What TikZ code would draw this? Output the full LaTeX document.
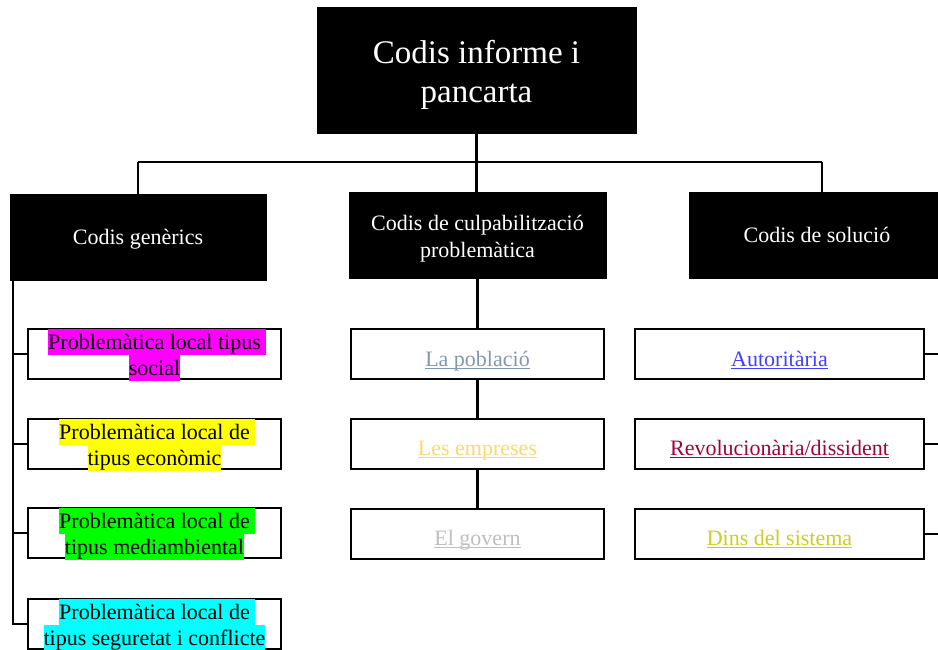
\documentclass[tikz,border=0pt]{standalone}
\usepackage{fontspec}
\setmainfont{Liberation Serif}
\usepackage{xcolor}
\definecolor{hlmag}{HTML}{FF00FF}
\definecolor{hlyel}{HTML}{FFFF00}
\definecolor{hlgrn}{HTML}{00FF00}
\definecolor{hlcya}{HTML}{00FFFF}
\definecolor{cpob}{HTML}{8497B0}
\definecolor{cemp}{HTML}{FFD966}
\definecolor{cgov}{HTML}{BFBFBF}
\definecolor{caut}{HTML}{4040FF}
\definecolor{crev}{HTML}{A50037}
\definecolor{cdins}{HTML}{CCCC22}
\newcommand\myul[1]{\sbox0{#1}\rlap{\rule[-3pt]{\wd0}{1.2pt}}\usebox0}
\newcommand\hlt[2]{{\fboxsep=0pt\colorbox{#1}{\rule[-6pt]{0pt}{26pt}#2}}}
\newcommand\hltsp[2]{{\fboxsep=0pt\colorbox{#1}{\rule[-6pt]{0pt}{26pt}#2}\rlap{\colorbox{#1}{\rule[-6pt]{0pt}{26pt}\hspace{5.5pt}}}}}
\tikzset{
  blkbox/.style={fill=black, draw=black, inner sep=0pt},
  wbox/.style={draw=black, line width=2.6pt, fill=white, inner sep=0pt},
  conn/.style={line width=2.6pt},
  wtxt/.style={text=white, inner sep=0pt, align=center, font=\fontsize{22}{27}\selectfont},
  btxt/.style={inner sep=0pt, align=center, font=\fontsize{22}{26}\selectfont},
}
\begin{document}
\begin{tikzpicture}[x=1pt,y=-1pt]
\useasboundingbox (0,0) rectangle (938,649);
\clip (0,0) rectangle (938,649);
% header boxes
\node[blkbox, minimum width=319pt, minimum height=126pt] (top) at (476.5,70) {};
\node[blkbox, minimum width=256pt, minimum height=86pt] (gen) at (138,237) {};
\node[blkbox, minimum width=257pt, minimum height=86pt] (cul) at (477.5,235) {};
\node[blkbox, minimum width=256pt, minimum height=86pt] (sol) at (817,235) {};
\node[wtxt, font=\fontsize{33}{39}\selectfont] (toptxt) at (476.5,75) {Codis informe i\\pancarta};
\node[wtxt, anchor=base] (gentxt) at (138,244) {Codis genèrics};
\node[wtxt] (cultxt) at (477.5,238.5) {Codis de culpabilització\\problemàtica};
\node[wtxt, anchor=base] (soltxt) at (817,242) {Codis de solució};
% connectors top
\coordinate (barL) at (138,162);
\coordinate (barR) at (822,162);
\draw[conn] (top.south) -- (top.south |- cul.north);
\draw[conn] (barL) -- (barR);
\draw[conn] (gen.north) -- (barL);
\draw[conn] (barR) -- (barR |- sol.north);
% left column
\node[wbox, minimum width=253pt, minimum height=50pt] (l1) at (154.5,354) {};
\node[wbox, minimum width=253pt, minimum height=50pt] (l2) at (154.5,444) {};
\node[wbox, minimum width=253pt, minimum height=50pt] (l3) at (154.5,533) {};
\node[wbox, minimum width=253pt, minimum height=50pt] (l4) at (154.5,624) {};
\node[btxt] (l1t) at (154.5,355) {\hltsp{hlmag}{Problemàtica local tipus}\\\hlt{hlmag}{social}};
\node[btxt] (l2t) at (154.5,445) {\hltsp{hlyel}{Problemàtica local de}\\\hlt{hlyel}{tipus econòmic}};
\node[btxt] (l3t) at (154.5,534) {\hltsp{hlgrn}{Problemàtica local de}\\\hlt{hlgrn}{tipus mediambiental}};
\node[btxt] (l4t) at (154.5,625) {\hltsp{hlcya}{Problemàtica local de}\\\hlt{hlcya}{tipus seguretat i conflicte}};
\coordinate (spT) at (13,280);
\draw[conn] (spT) |- (l4.west);
\draw[conn] (l1.west) -- (l1.west -| spT);
\draw[conn] (l2.west) -- (l2.west -| spT);
\draw[conn] (l3.west) -- (l3.west -| spT);
% middle column
\node[wbox, minimum width=253pt, minimum height=50pt] (m1) at (477.5,354) {};
\node[wbox, minimum width=253pt, minimum height=50pt] (m2) at (477.5,444) {};
\node[wbox, minimum width=253pt, minimum height=50pt] (m3) at (477.5,534) {};
\node[btxt, anchor=base, text=cpob] (m1t) at (477.5,366) {\myul{La població}};
\node[btxt, anchor=base, text=cemp] (m2t) at (477.5,455) {\myul{Les empreses}};
\node[btxt, anchor=base, text=cgov] (m3t) at (477.5,545) {\myul{El govern}};
\draw[conn] (cul.south) -- (cul.south |- m1.north);
\draw[conn] (m1.south) -- (m2.north);
\draw[conn] (m2.south) -- (m3.north);
% right column
\node[wbox, minimum width=289pt, minimum height=50pt] (r1) at (779.5,354) {};
\node[wbox, minimum width=289pt, minimum height=50pt] (r2) at (779.5,444) {};
\node[wbox, minimum width=289pt, minimum height=50pt] (r3) at (779.5,534) {};
\node[btxt, anchor=base, text=caut] (r1t) at (779.5,366) {\myul{Autoritària}};
\node[btxt, anchor=base, text=crev] (r2t) at (779.5,455) {\myul{Revolucionària/dissident}};
\node[btxt, anchor=base, text=cdins] (r3t) at (779.5,545) {\myul{Dins del sistema}};
\coordinate (rs) at (950,0);
\draw[conn] (r1.east) -- (r1.east -| rs);
\draw[conn] (r2.east) -- (r2.east -| rs);
\draw[conn] (r3.east) -- (r3.east -| rs);
\end{tikzpicture}
\end{document}
